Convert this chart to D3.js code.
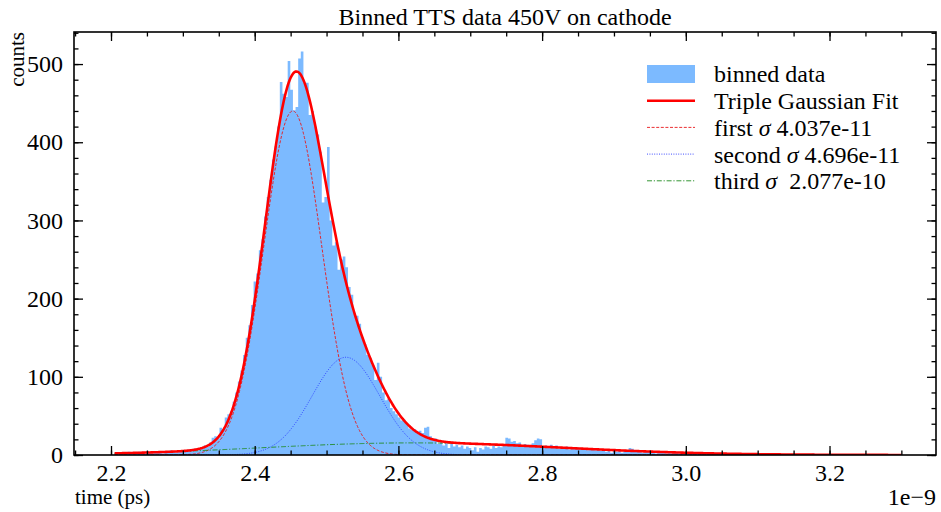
<!DOCTYPE html>
<html>
<head>
<meta charset="utf-8">
<script src="https://cdn.jsdelivr.net/npm/d3@7"></script>
<style>
  body { margin: 0; background: #fff; }
  svg, svg text { font-family: 'Liberation Serif', 'Times New Roman', Times, serif; }
</style>
</head>
<body>
<div id="viz"></div>
<script>
// histogram bins (time in units of 1e-9)
const binStart = 2.205;
const binWidth = 0.00365;
const counts = [
  2, 0, 3, 1, 2, 4, 1, 3, 2, 4,
  3, 2, 5, 3, 2, 4, 3, 5, 2, 4,
  3, 6, 4, 3, 5, 4, 6, 5, 7, 5,
  8, 6, 9, 8, 12, 11, 16, 22, 24, 21,
  35, 33, 48, 52, 56, 68, 80, 94, 108, 128,
  150, 166, 192, 222, 232, 262, 276, 305, 330, 352,
  378, 395, 420, 477, 462, 458, 504, 467, 441, 445,
  507, 516, 476, 476, 435, 440, 420, 410, 388, 323,
  330, 394, 300, 268, 272, 237, 250, 254, 240, 215,
  205, 182, 178, 168, 150, 142, 128, 124, 115, 96,
  118, 100, 80, 70, 72, 60, 56, 52, 48, 44,
  45, 40, 34, 32, 33, 30, 31, 28, 35, 36,
  24, 20, 21, 14, 17, 12, 15, 9, 14, 11,
  13, 10, 12, 8, 11, 9, 6, 10, 4, 9,
  7, 11, 10, 8, 12, 9, 11, 10, 13, 22,
  21, 17, 18, 15, 16, 12, 14, 13, 11, 15,
  19, 21, 20, 10, 12, 9, 13, 11, 12, 8,
  10, 9, 11, 7, 10, 8, 10, 9, 7, 9,
  6, 8, 7, 6, 8, 5, 7, 4, 6, 3,
  5, 4, 6, 3, 5, 4, 9, 8, 5, 6,
  4, 3, 5, 4, 3, 5, 2, 4, 3, 4,
  2, 3, 2, 4, 3, 2, 3, 1, 3, 2,
  2, 3, 1, 2, 2, 1, 3, 2, 1, 2,
  1, 2, 1, 1, 2, 0, 1, 2, 1, 1,
  0, 1, 2, 0, 1, 1, 0, 2, 1, 0,
  1, 1, 0, 1, 0, 1, 0, 0, 1, 0,
  1, 0, 1, 0, 0, 1, 2, 1, 0, 0,
  1, 0, 0, 1, 0, 0, 0, 1, 0, 0,
  0, 0, 1, 0, 0, 0, 1, 0, 0, 0,
  0, 1, 0, 0, 0, 0, 0, 1, 0, 0
];

// fitted gaussian components: amplitude, mean, sigma (1e-9 units)
const fitAmps = [440, 125, 15.5];
const fitMeans = [2.453, 2.527, 2.62];
const fitSigmas = [0.04037, 0.04696, 0.2077];
const fitNames = ['first', 'second', 'third'];
const fitSigmaText = ['4.037e-11', '4.696e-11', ' 2.077e-10'];

const xTicks = [2.2, 2.4, 2.6, 2.8, 3.0, 3.2];
const yTicks = [0, 100, 200, 300, 400, 500];

const width = 941;
const height = 512;
const plot = {left: 74, right: 936, top: 32, bottom: 455};
const serif = "'Liberation Serif', 'Times New Roman', Times, serif";
const bigFont = 24;

const svg = d3.select('#viz')
  .append('svg')
  .attr('width', width)
  .attr('height', height);

const binEnd = binStart + binWidth * counts.length;

const x = d3.scaleLinear()
  .domain([2.1485, 3.3482])
  .range([plot.left, plot.right]);

const y = d3.scaleLinear()
  .domain([0, 541])
  .range([plot.bottom, plot.top]);

svg.append('clipPath')
  .attr('id', 'clip')
  .append('rect')
  .attr('x', plot.left)
  .attr('y', plot.top)
  .attr('width', plot.right - plot.left)
  .attr('height', plot.bottom - plot.top);

const plotArea = svg.append('g').attr('clip-path', 'url(#clip)');

// histogram as one stepped area
const steps = counts.map((c, i) => ({x: binStart + i * binWidth, c: c}));
steps.push({x: binEnd, c: counts[counts.length - 1]});

const histArea = d3.area()
  .curve(d3.curveStepAfter)
  .x(d => x(d.x))
  .y0(y(0))
  .y1(d => y(d.c));

plotArea.append('path')
  .datum(steps)
  .attr('d', histArea)
  .attr('fill', '#7cbaff');

// fit curves
function gauss(k, t) {
  const z = (t - fitMeans[k]) / fitSigmas[k];
  return fitAmps[k] * Math.exp(-0.5 * z * z);
}

const grid = d3.range(0, 801).map(i => binStart + (binEnd - binStart) * i / 800);
const line = d3.line().x(d => x(d[0])).y(d => y(d[1]));

const compStyles = [
  {color: '#e8191c', width: 0.9, dash: '3,1.6'},
  {color: '#2b3bff', width: 0.9, dash: '1,1.4'},
  {color: '#1f8a1f', width: 0.9, dash: '5,1.8,1.2,1.8'}
];

fitAmps.forEach((a, k) => {
  plotArea.append('path')
    .datum(grid.map(t => [t, gauss(k, t)]))
    .attr('d', line)
    .attr('fill', 'none')
    .attr('stroke', compStyles[k].color)
    .attr('stroke-width', compStyles[k].width)
    .attr('stroke-dasharray', compStyles[k].dash);
});

plotArea.append('path')
  .datum(grid.map(t => [t, gauss(0, t) + gauss(1, t) + gauss(2, t)]))
  .attr('d', line)
  .attr('fill', 'none')
  .attr('stroke', '#ff0000')
  .attr('stroke-width', 2.6);

// axes: ticks inward on all four sides
const xMinor = d3.range(2.15, 3.351, 0.05).filter(v => v > x.domain()[0] && v < x.domain()[1]);
const yMinor = d3.range(0, 541, 20);

function tickGroup(axis, transform) {
  const g = svg.append('g')
    .attr('transform', transform)
    .call(axis);
  g.select('.domain').remove();
  g.selectAll('line').attr('stroke', '#000').attr('stroke-width', 1.3);
  g.selectAll('text')
    .style('font-family', serif)
    .style('font-size', bigFont + 'px')
    .attr('fill', '#000');
  return g;
}

const bigLen = 9;
const smallLen = 4.5;

tickGroup(d3.axisBottom(x).tickValues(xMinor).tickSize(-smallLen).tickFormat(''), `translate(0,${plot.bottom})`);
tickGroup(d3.axisTop(x).tickValues(xMinor).tickSize(-smallLen).tickFormat(''), `translate(0,${plot.top})`);
tickGroup(d3.axisLeft(y).tickValues(yMinor).tickSize(-smallLen).tickFormat(''), `translate(${plot.left},0)`);
tickGroup(d3.axisRight(y).tickValues(yMinor).tickSize(-smallLen).tickFormat(''), `translate(${plot.right},0)`);

tickGroup(d3.axisBottom(x).tickValues(xTicks).tickSize(-bigLen).tickPadding(bigLen).tickFormat(d3.format('.1f')), `translate(0,${plot.bottom})`);
tickGroup(d3.axisTop(x).tickValues(xTicks).tickSize(-bigLen).tickFormat(''), `translate(0,${plot.top})`);
tickGroup(d3.axisLeft(y).tickValues(yTicks).tickSize(-bigLen).tickPadding(bigLen + 2).tickFormat(d3.format('d')), `translate(${plot.left},0)`);
tickGroup(d3.axisRight(y).tickValues(yTicks).tickSize(-bigLen).tickFormat(''), `translate(${plot.right},0)`);

svg.append('rect')
  .attr('x', plot.left)
  .attr('y', plot.top)
  .attr('width', plot.right - plot.left)
  .attr('height', plot.bottom - plot.top)
  .attr('fill', 'none')
  .attr('stroke', '#000')
  .attr('stroke-width', 1.6);

// labels
svg.append('text')
  .attr('x', (plot.left + plot.right) / 2)
  .attr('y', 25)
  .attr('text-anchor', 'middle')
  .style('font-size', '24px')
  .text('Binned TTS data 450V on cathode');

svg.append('text')
  .attr('x', plot.left + 1)
  .attr('y', 504)
  .style('font-size', '21px')
  .text('time (ps)');

svg.append('text')
  .attr('transform', `translate(24,${plot.top}) rotate(-90)`)
  .attr('text-anchor', 'end')
  .style('font-size', '21px')
  .text('counts');

svg.append('text')
  .attr('x', plot.right)
  .attr('y', 505)
  .attr('text-anchor', 'end')
  .style('font-size', bigFont + 'px')
  .text('1e\u22129');

// legend
const legend = svg.append('g').attr('transform', 'translate(647,74)');
const rowGap = 26.7;

legend.append('rect')
  .attr('x', 0)
  .attr('y', -9)
  .attr('width', 48)
  .attr('height', 18)
  .attr('fill', '#7cbaff');

legend.append('line')
  .attr('x1', 0).attr('x2', 48)
  .attr('y1', rowGap).attr('y2', rowGap)
  .attr('stroke', '#ff0000')
  .attr('stroke-width', 2.6);

compStyles.forEach((s, k) => {
  legend.append('line')
    .attr('x1', 0).attr('x2', 48)
    .attr('y1', rowGap * (k + 2)).attr('y2', rowGap * (k + 2))
    .attr('stroke', s.color)
    .attr('stroke-width', s.width)
    .attr('stroke-dasharray', s.dash);
});

const labels = ['binned data', 'Triple Gaussian Fit'];
labels.forEach((t, k) => {
  legend.append('text')
    .attr('x', 67)
    .attr('y', rowGap * k)
    .attr('dy', '0.35em')
    .style('font-size', bigFont + 'px')
    .text(t);
});

fitNames.forEach((n, k) => {
  const t = legend.append('text')
    .attr('x', 67)
    .attr('y', rowGap * (k + 2))
    .attr('dy', '0.35em')
    .style('font-size', bigFont + 'px')
    .style('white-space', 'pre');
  t.append('tspan').text(n + ' ');
  t.append('tspan').style('font-style', 'italic').text('\u03c3');
  t.append('tspan').text(' ' + fitSigmaText[k]);
});
</script>
</body>
</html>
